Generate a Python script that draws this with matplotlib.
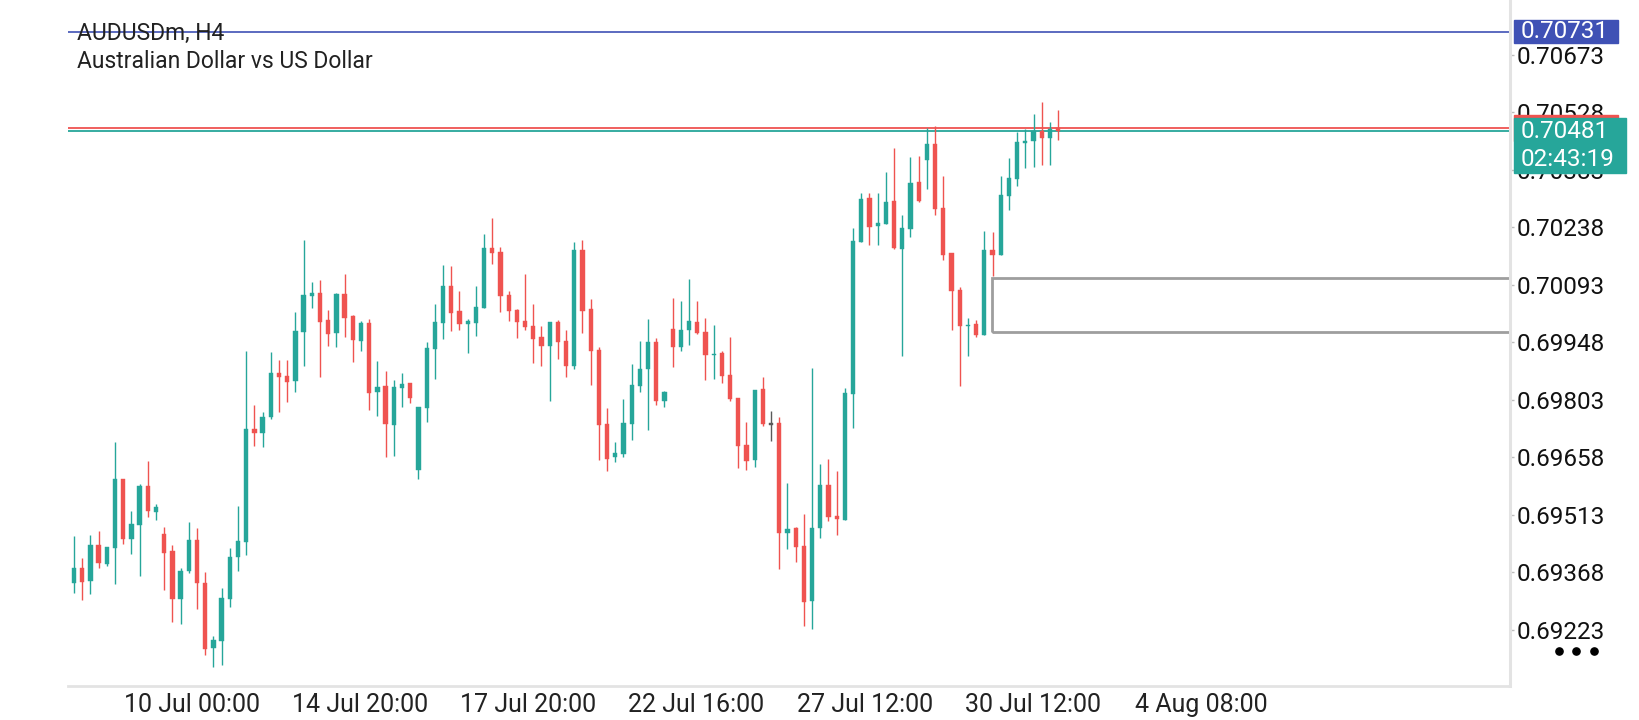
import matplotlib
matplotlib.use("Agg")
import matplotlib.pyplot as plt
from matplotlib.patches import Rectangle
from matplotlib.lines import Line2D
import matplotlib.transforms as mtrans

plt.rcParams['font.family'] = ['Roboto', 'DejaVu Sans']

# ---------------- data (AUDUSDm, H4) ----------------
opens = [
    0.69341, 0.69379, 0.69346, 0.69437, 0.69389, 0.69430, 0.69604, 0.69452, 0.69488, 0.69586,
    0.69520, 0.69465, 0.69422, 0.69301, 0.69372, 0.69450, 0.69341, 0.69177, 0.69195, 0.69301,
    0.69407, 0.69445, 0.69730, 0.69720, 0.69760, 0.69871, 0.69863, 0.69851, 0.69974, 0.70065,
    0.70073, 0.70005, 0.69972, 0.70070, 0.70015, 0.69952, 0.69997, 0.69823, 0.69838, 0.69740,
    0.69833, 0.69846, 0.69626, 0.69783, 0.69932, 0.69997, 0.70090, 0.70027, 0.69995, 0.69997,
    0.70035, 0.70186, 0.70176, 0.70068, 0.70030, 0.70002, 0.69990, 0.69962, 0.69939, 0.70000,
    0.69952, 0.69889, 0.70181, 0.70032, 0.69929, 0.69742, 0.69659, 0.69667, 0.69742, 0.69838,
    0.69881, 0.69949, 0.69800, 0.69982, 0.69937, 0.69979, 0.70000, 0.69974, 0.69916, 0.69921,
    0.69866, 0.69808, 0.69689, 0.69652, 0.69831, 0.69742, 0.69745, 0.69467, 0.69480, 0.69435,
    0.69296, 0.69480, 0.69588, 0.69510, 0.69500, 0.69818, 0.70201, 0.70312, 0.70242, 0.70247,
    0.70305, 0.70184, 0.70234, 0.70353, 0.70408, 0.70449, 0.70287, 0.70174, 0.70080, 0.69990,
    0.69995, 0.69967, 0.70181, 0.70169, 0.70317, 0.70360, 0.70451, 0.70456, 0.70481, 0.70464,
    0.70489,
]
highs = [
    0.69460, 0.69404, 0.69462, 0.69473, 0.69432, 0.69697, 0.69604, 0.69523, 0.69591, 0.69649,
    0.69541, 0.69483, 0.69437, 0.69379, 0.69495, 0.69480, 0.69369, 0.69208, 0.69329, 0.69430,
    0.69536, 0.69926, 0.69790, 0.69773, 0.69924, 0.69904, 0.69904, 0.70025, 0.70206, 0.70101,
    0.70106, 0.70030, 0.70073, 0.70121, 0.70017, 0.70002, 0.70007, 0.69901, 0.69876, 0.69853,
    0.69871, 0.69846, 0.69785, 0.69949, 0.70045, 0.70143, 0.70141, 0.70078, 0.70007, 0.70090,
    0.70222, 0.70262, 0.70189, 0.70078, 0.70032, 0.70121, 0.70045, 0.69990, 0.70000, 0.70005,
    0.69979, 0.70201, 0.70206, 0.70058, 0.69937, 0.69783, 0.69697, 0.69805, 0.69894, 0.69952,
    0.70007, 0.69959, 0.69826, 0.70060, 0.70053, 0.70108, 0.70053, 0.70010, 0.69992, 0.69926,
    0.69962, 0.69808, 0.69747, 0.69828, 0.69861, 0.69775, 0.69760, 0.69594, 0.69483, 0.69515,
    0.69884, 0.69641, 0.69654, 0.69624, 0.69833, 0.70237, 0.70325, 0.70325, 0.70325, 0.70378,
    0.70438, 0.70269, 0.70416, 0.70418, 0.70489, 0.70494, 0.70368, 0.70174, 0.70088, 0.70010,
    0.70005, 0.70229, 0.70227, 0.70368, 0.70413, 0.70479, 0.70486, 0.70524, 0.70554, 0.70504,
    0.70534,
]
lows = [
    0.69316, 0.69299, 0.69314, 0.69379, 0.69384, 0.69339, 0.69440, 0.69415, 0.69359, 0.69508,
    0.69500, 0.69324, 0.69243, 0.69238, 0.69367, 0.69276, 0.69160, 0.69130, 0.69135, 0.69281,
    0.69372, 0.69412, 0.69687, 0.69684, 0.69755, 0.69773, 0.69798, 0.69823, 0.69889, 0.70035,
    0.69861, 0.69939, 0.69937, 0.69962, 0.69899, 0.69926, 0.69778, 0.69763, 0.69659, 0.69662,
    0.69785, 0.69795, 0.69604, 0.69747, 0.69856, 0.69957, 0.69977, 0.69979, 0.69921, 0.69964,
    0.70035, 0.70146, 0.70025, 0.70002, 0.69959, 0.69979, 0.69896, 0.69889, 0.69800, 0.69906,
    0.69861, 0.69881, 0.69972, 0.69841, 0.69652, 0.69624, 0.69647, 0.69659, 0.69702, 0.69823,
    0.69727, 0.69790, 0.69785, 0.69886, 0.69926, 0.69942, 0.69969, 0.69853, 0.69856, 0.69846,
    0.69800, 0.69631, 0.69626, 0.69634, 0.69737, 0.69700, 0.69377, 0.69427, 0.69394, 0.69233,
    0.69225, 0.69455, 0.69498, 0.69462, 0.69500, 0.69732, 0.70201, 0.70194, 0.70194, 0.70247,
    0.70184, 0.69914, 0.70214, 0.70302, 0.70335, 0.70269, 0.70156, 0.69979, 0.69838, 0.69914,
    0.69962, 0.69967, 0.70116, 0.70169, 0.70282, 0.70343, 0.70388, 0.70391, 0.70396, 0.70396,
    0.70459,
]
closes = [
    0.69379, 0.69344, 0.69437, 0.69392, 0.69432, 0.69604, 0.69452, 0.69490, 0.69586, 0.69523,
    0.69533, 0.69417, 0.69301, 0.69372, 0.69450, 0.69341, 0.69175, 0.69198, 0.69304, 0.69407,
    0.69447, 0.69730, 0.69720, 0.69760, 0.69871, 0.69861, 0.69848, 0.69977, 0.70068, 0.70073,
    0.70000, 0.69969, 0.70070, 0.70010, 0.69954, 0.69997, 0.69821, 0.69836, 0.69742, 0.69836,
    0.69843, 0.69808, 0.69785, 0.69934, 0.70000, 0.70090, 0.70022, 0.69995, 0.70002, 0.70037,
    0.70186, 0.70174, 0.70065, 0.70027, 0.70000, 0.69987, 0.69957, 0.69939, 0.70000, 0.69949,
    0.69889, 0.70181, 0.70027, 0.69926, 0.69740, 0.69654, 0.69669, 0.69745, 0.69841, 0.69881,
    0.69949, 0.69800, 0.69823, 0.69937, 0.69979, 0.70002, 0.69972, 0.69916, 0.69919, 0.69863,
    0.69805, 0.69687, 0.69649, 0.69828, 0.69742, 0.69742, 0.69467, 0.69478, 0.69432, 0.69293,
    0.69480, 0.69588, 0.69508, 0.69503, 0.69821, 0.70204, 0.70310, 0.70239, 0.70249, 0.70302,
    0.70186, 0.70237, 0.70350, 0.70305, 0.70449, 0.70285, 0.70169, 0.70078, 0.69990, 0.69992,
    0.69967, 0.70181, 0.70169, 0.70320, 0.70363, 0.70454, 0.70456, 0.70481, 0.70464, 0.70486,
    0.70481,
]

time_labels = ["10 Jul 00:00", "14 Jul 20:00", "17 Jul 20:00", "22 Jul 16:00",
               "27 Jul 12:00", "30 Jul 12:00", "4 Aug 08:00"]
time_label_pos = [14.4, 34.9, 55.4, 75.9, 96.4, 116.9, 137.4]   # in bar units

price_ticks = [0.69223, 0.69368, 0.69513, 0.69658, 0.69803, 0.69948,
               0.70093, 0.70238, 0.70383, 0.70528, 0.70673]

bid_price = 0.70481
ask_price = 0.70490
alert_price = 0.70731
zone_top = 0.70111
zone_bottom = 0.69974
zone_start = 111.9
countdown = "02:43:19"
symbol = "AUDUSDm, H4"
description = "Australian Dollar vs US Dollar"

# ---------------- style ----------------
UP = '#26a69a'
DOWN = '#ef5350'
DOJI = '#5a5a5a'
BLUE = '#3f51b5'
W, H = 1640, 720

fig = plt.figure(figsize=(W / 100, H / 100), dpi=100)
fig.patch.set_facecolor('white')
ax_left, ax_right, ax_top, ax_bot = 68, 1510, 0, 686
ax = fig.add_axes([ax_left / W, (H - ax_bot) / H, (ax_right - ax_left) / W, (ax_bot - ax_top) / H])
ax.set_xlim(-0.73, 175.1)
ax.set_ylim(0.690816, 0.708117)

n = len(opens)
xs = list(range(n))
dpp = (0.708117 - 0.690816) / (ax_bot - ax_top)  # price per pixel
for i in xs:
    o, h, l, c = opens[i], highs[i], lows[i], closes[i]
    col = UP if c > o else (DOWN if c < o else DOJI)
    ax.vlines(i, l, h, color=col, linewidth=1.0, zorder=3)
    bottom = min(o, c)
    height = max(abs(c - o), 1.3 * dpp)
    if abs(c - o) < 1.3 * dpp:
        bottom = (o + c) / 2 - height / 2
    ax.bar(i, height, width=0.52, bottom=bottom, color=col, edgecolor=col,
           linewidth=0.3, zorder=4)

# horizontal lines
ax.axhline(alert_price, color=BLUE, linewidth=1.2, zorder=2)
ax.axhline(ask_price, color=DOWN, linewidth=1.3, zorder=2)
ax.axhline(bid_price, color=UP, linewidth=1.3, zorder=2)

# zone rectangle
ax.add_patch(Rectangle((zone_start, zone_bottom), 300, zone_top - zone_bottom,
                       fill=False, edgecolor='#9e9e9e', linewidth=2.0, zorder=2))

# axes styling
for s in ['top', 'left']:
    ax.spines[s].set_visible(False)
ax.spines['right'].set_color('#e3e3e3')
ax.spines['right'].set_linewidth(2.2)
ax.spines['bottom'].set_color('#e3e3e3')
ax.spines['bottom'].set_linewidth(2.0)
ax.yaxis.tick_right()
ax.set_yticks(price_ticks)
ax.set_yticklabels([f"{p:.5f}" for p in price_ticks])
ax.tick_params(axis='y', length=3, width=1, color='#bdbdbd', pad=2,
               labelsize=17.5, labelcolor='#111111')
ax.set_xticks(time_label_pos)
ax.set_xticklabels(time_labels)
ax.tick_params(axis='x', length=0, pad=5, labelsize=18, labelcolor='#222222')

# title texts
fig.text(77 / W, 1 - 33 / H, symbol, fontsize=16.5, color='#212121', va='center', ha='left')
fig.text(77 / W, 1 - 62 / H, description, fontsize=16.5, color='#212121', va='center', ha='left')

# price labels on the right
bt = mtrans.blended_transform_factory(fig.transFigure, ax.transData)
box_x = 1514 / W
# ask (red) label mostly hidden behind bid label
fig.add_artist(Rectangle((box_x, ask_price - 13 * dpp), 104 / W, 26 * dpp,
                         transform=bt, color=DOWN, zorder=5, clip_on=False))
# alert label
fig.add_artist(Rectangle((box_x, alert_price - 11.5 * dpp), 104 / W, 23 * dpp,
                         transform=bt, color=BLUE, zorder=6, clip_on=False))
fig.text(1521 / W, alert_price, f"{alert_price:.5f}", transform=bt, fontsize=17.5,
         color='white', va='center', ha='left', zorder=7)
# bid label with countdown
fig.add_artist(Rectangle((box_x, bid_price - 42 * dpp), 112 / W, 55 * dpp,
                         transform=bt, color=UP, zorder=6, clip_on=False))
fig.text(1521 / W, bid_price, f"{bid_price:.5f}", transform=bt, fontsize=17.5,
         color='white', va='center', ha='left', zorder=7)
fig.text(1521 / W, bid_price - 28 * dpp, countdown, transform=bt, fontsize=17.5,
         color='white', va='center', ha='left', zorder=7)

# menu dots
for dx in (1559, 1576, 1594):
    fig.add_artist(Line2D([dx / W], [1 - 651 / H], marker='o', markersize=5.2,
                          color='black', transform=fig.transFigure))

fig.savefig('out.png', dpi=100, facecolor='white')
